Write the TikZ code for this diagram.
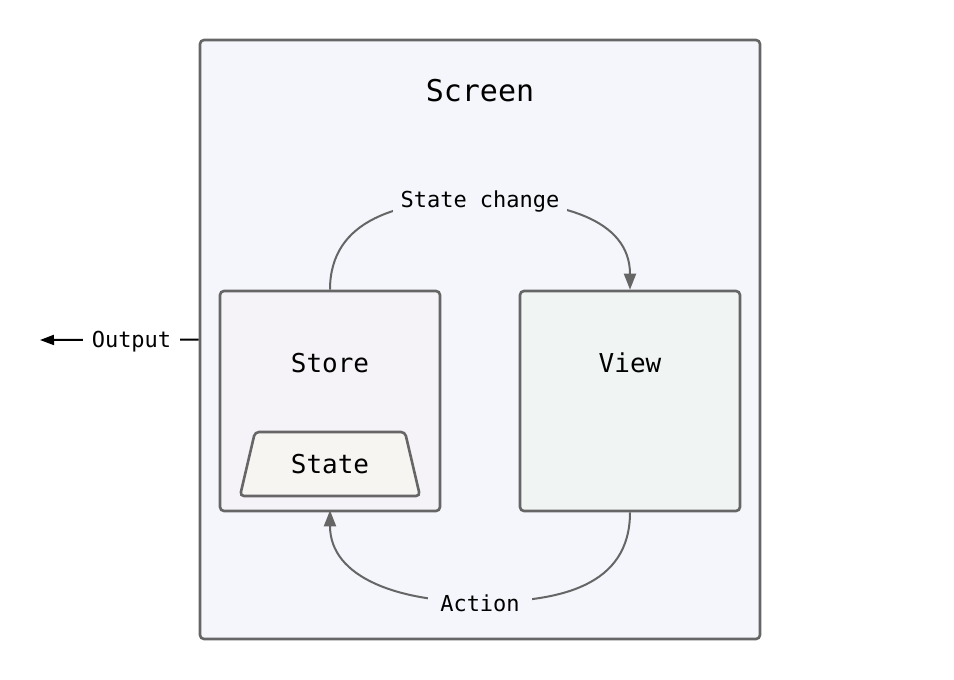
\documentclass[tikz,border=0pt]{standalone}
\usepackage{fontspec}
\newfontfamily\mono{DejaVu Sans Mono}
\usetikzlibrary{arrows.meta}
\definecolor{linec}{HTML}{666666}
\definecolor{screenfill}{HTML}{F5F6FB}
\definecolor{storefill}{HTML}{F5F2F8}
\definecolor{viewfill}{HTML}{F0F5F4}
\definecolor{statefill}{HTML}{F7F5F2}
\tikzset{
  boxstyle/.style={draw=linec, line width=2.6pt, rounded corners=4pt, inner sep=0pt},
  arr/.style={draw=linec, line width=2pt, -{Triangle[length=16pt,width=12pt]}},
  outarr/.style={draw=black, line width=2pt, -{Triangle[length=14pt,width=10pt]}},
  lbl/.style={font=\mono\fontsize{22}{26}\selectfont, inner xsep=8pt, inner ysep=2pt, text=black},
  big/.style={font=\mono\fontsize{26}{30}\selectfont, text=black},
}
\begin{document}
\begin{tikzpicture}[x=1pt,y=-1pt]
\useasboundingbox (0,0) rectangle (954,680);
\node[boxstyle, fill=screenfill, minimum width=560pt, minimum height=599pt] (screen) at (480,339.5) {};
\node[font=\mono\fontsize{30}{34}\selectfont] (title) at (480,91) {Screen};
\node[boxstyle, fill=storefill, minimum width=220pt, minimum height=220pt] (store) at (330,401) {};
\node[boxstyle, fill=viewfill, minimum width=220pt, minimum height=220pt] (view) at (630,401) {};
\node[big] (storelbl) at (330,363) {Store};
\node[big] (viewlbl) at (630,363) {View};
\draw[draw=linec, line width=2.6pt, rounded corners=4pt, fill=statefill] (240,496) -- (255,432) -- (405,432) -- (420,496) -- cycle;
\node[big] (state) at (330,464) {State};
% State change
\coordinate (scmid) at (480,200);
\draw[arr] (store.north) .. controls +(0,-71) and +(-80,0) .. (scmid) .. controls +(80,0) and +(0,-71) .. (view.north);
\node[lbl, fill=screenfill] (sclbl) at (480,201.5) {State change};
% Action
\coordinate (acmid) at (480,602);
\draw[arr] (view.south) .. controls +(0,74) and +(80,0) .. (acmid) .. controls +(-80,0) and +(0,68) .. ([yshift=2pt]store.south);
\node[lbl, fill=screenfill, inner xsep=12pt] (aclbl) at (480,603) {Action};
% Output
\coordinate (outend) at (40,340);
\draw[outarr] (screen.west) -- (outend);
\node[lbl, fill=white, inner xsep=9pt] (outlbl) at (131.5,341.5) {Output};
\end{tikzpicture}
\end{document}
